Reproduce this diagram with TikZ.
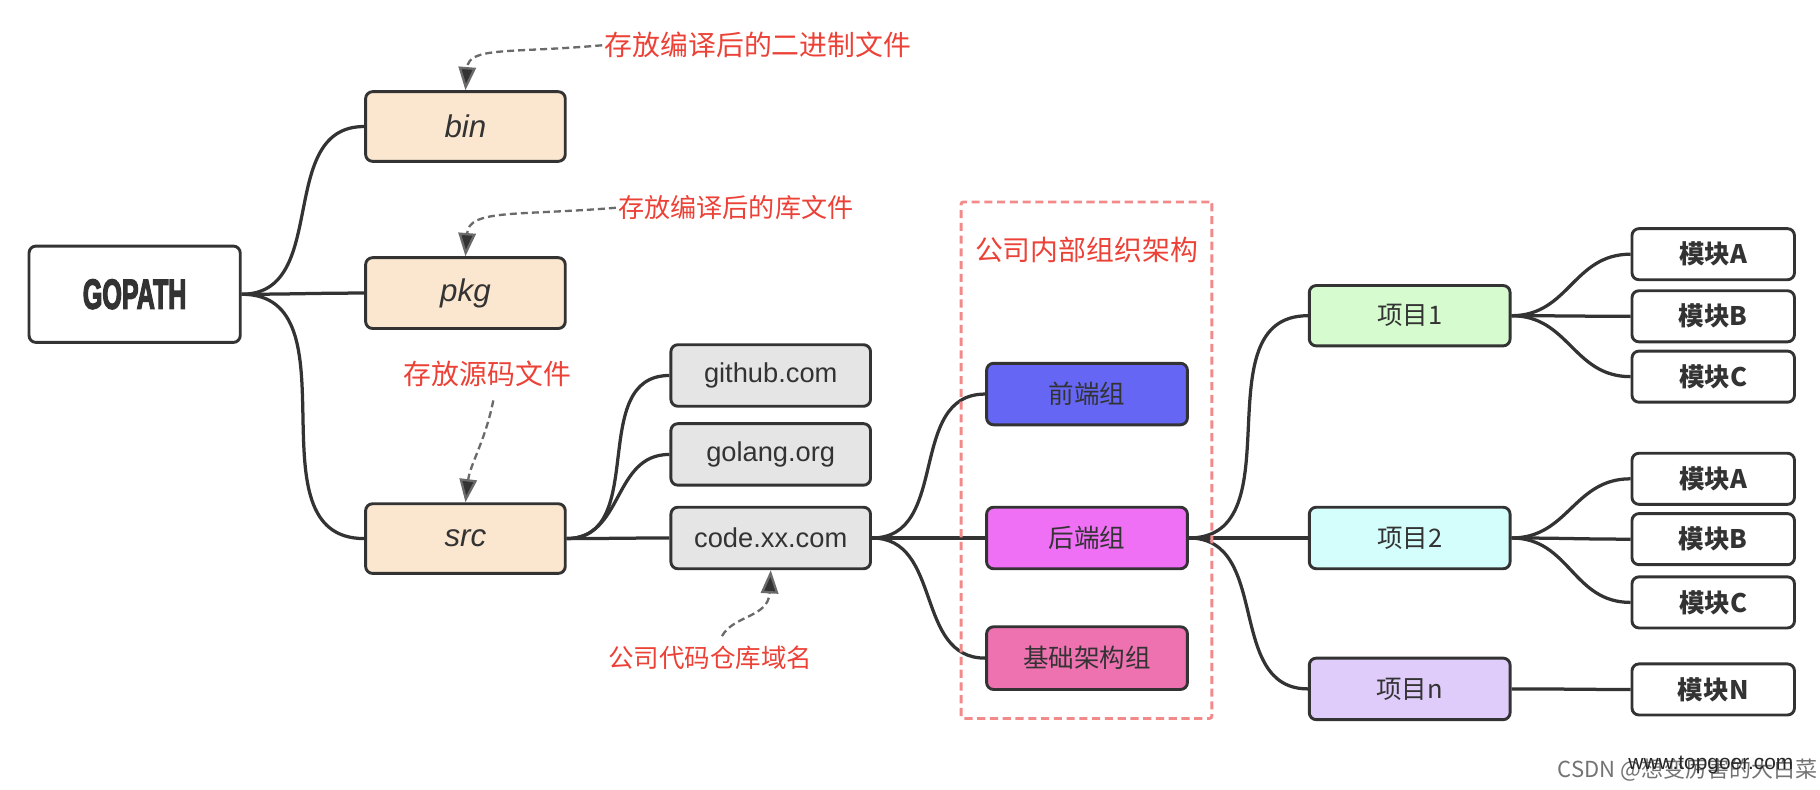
\documentclass[tikz,border=0pt]{standalone}
\usepackage{fontspec}
\setmainfont{Liberation Sans}
\newfontfamily\cjk{Noto Sans CJK SC}
\newfontfamily\heavyfont[FakeBold=4]{Liberation Sans Bold}
\usetikzlibrary{arrows.meta}
\definecolor{ink}{HTML}{333333}
\definecolor{notered}{HTML}{EC4136}
\definecolor{peach}{HTML}{FBE7D0}
\definecolor{lgray}{HTML}{E5E5E5}
\definecolor{qblue}{HTML}{6666F5}
\definecolor{hmag}{HTML}{EF70F5}
\definecolor{jpink}{HTML}{EE72B0}
\definecolor{xgreen}{HTML}{D5FBCF}
\definecolor{xcyan}{HTML}{D4FEFC}
\definecolor{xpurp}{HTML}{E0CCFA}
\definecolor{boxred}{HTML}{F28A8A}
\definecolor{dashgray}{HTML}{6A6A6A}
\begin{document}
\begin{tikzpicture}[x=1pt,y=-1pt,
  box/.style={draw=ink, line width=2.5pt, rounded corners=6pt, inner sep=0pt,
    text=ink, minimum width=172pt},
  dirbox/.style={box, fill=peach, minimum height=60pt,
    font=\fontsize{27}{30}\selectfont\itshape},
  sitebox/.style={box, fill=lgray, minimum height=53pt,
    font=\fontsize{23.5}{26}\selectfont},
  grpbox/.style={box, minimum width=173pt, minimum height=53pt,
    font=\fontsize{22}{26}\selectfont\cjk},
  modbox/.style={box, fill=white, minimum width=140pt, minimum height=44pt,
    font=\fontsize{22}{26}\selectfont\cjk\bfseries},
  conn/.style={draw=ink, line width=2.8pt, out=0, in=180, looseness=1.1},
  notetext/.style={text=notered, inner sep=2pt, font=\fontsize{24}{28}\selectfont\cjk},
  note/.style={draw=dashgray, line width=2pt, dash pattern=on 6pt off 3.5pt,
    -{Triangle[length=20pt,width=15pt,fill=ink]}, shorten >=0pt}
]
\useasboundingbox (0,0) rectangle (1568,680);

% main nodes
\node[box, fill=white, minimum width=182pt, minimum height=83pt] (gopath) at (116,253.5)
  {\scalebox{0.6}[1]{\fontsize{36}{36}\selectfont\heavyfont GOPATH}};
\node[dirbox] (bin) at (401,109) {bin};
\node[dirbox, minimum height=61pt] (pkg) at (401,252.5) {pkg};
\node[dirbox] (src) at (401,464) {src};

\node[sitebox] (github) at (664,323.5) {github.com};
\node[sitebox] (golang) at (664,391.5) {golang.org};
\node[sitebox] (code) at (664,463.5) {code.xx.com};

\node[grpbox, fill=qblue] (qd) at (936.5,339.5) {前端组};
\node[grpbox, fill=hmag] (hd) at (936.5,463.5) {后端组};
\node[grpbox, fill=jpink, minimum height=54pt] (jc) at (936.5,567) {基础架构组};

\node[grpbox, fill=xgreen, minimum height=52pt] (p1) at (1214.5,272) {项目1};
\node[grpbox, fill=xcyan] (p2) at (1214.5,463.5) {项目2};
\node[grpbox, fill=xpurp] (pn) at (1214.5,593.5) {项目n};

\node[modbox] (m1a) at (1476,219) {模块A};
\node[modbox] (m1b) at (1476,272.5) {模块B};
\node[modbox] (m1c) at (1476,324.5) {模块C};
\node[modbox] (m2a) at (1476,412.5) {模块A};
\node[modbox] (m2b) at (1476,464.5) {模块B};
\node[modbox] (m2c) at (1476,519) {模块C};
\node[modbox] (mn) at (1476,594) {模块N};

% connectors
\draw[conn] (gopath.east) to (bin.west);
\draw[conn] (gopath.east) to (pkg.west);
\draw[conn] (gopath.east) to (src.west);
\draw[conn] (src.east) to (github.west);
\draw[conn] (src.east) to (golang.west);
\draw[conn] (src.east) to (code.west);
\draw[conn] (code.east) to (qd.west);
\draw[conn] (code.east) to (hd.west);
\draw[conn] (code.east) to (jc.west);
\draw[conn] (hd.east) to (p1.west);
\draw[conn] (hd.east) to (p2.west);
\draw[conn] (hd.east) to (pn.west);
\draw[conn] (p1.east) to (m1a.west);
\draw[conn] (p1.east) to (m1b.west);
\draw[conn] (p1.east) to (m1c.west);
\draw[conn] (p2.east) to (m2a.west);
\draw[conn] (p2.east) to (m2b.west);
\draw[conn] (p2.east) to (m2c.west);
\draw[conn] (pn.east) to (mn.west);

% dashed group frame
\node[draw=boxred, line width=2.5pt, dash pattern=on 7pt off 4pt, rounded corners=2pt,
  minimum width=216pt, minimum height=445pt, inner sep=0pt] (frame) at (936,396.5) {};
\node[notetext] (orgt) at (936,215) {公司内部组织架构};

% annotations
\node[notetext] (t1) at (653,39) {存放编译后的二进制文件};
\node[notetext, font=\fontsize{22.5}{26}\selectfont\cjk] (t2) at (634,179) {存放编译后的库文件};
\node[notetext] (t3) at (420,322) {存放源码文件};
\node[notetext, font=\fontsize{22}{26}\selectfont\cjk] (t4) at (612,567) {公司代码仓库域名};

\coordinate (s3) at (425,345);
\coordinate (s4) at (622,548);
\draw[note] (t1.west) .. controls (440,46) and (404,40) .. (bin.north);
\draw[note] (t2.west) .. controls (445,186) and (404,180) .. (pkg.north);
\draw[note] (s3) .. controls (418,380) and (405,400) .. (src.north);
\draw[note] (s4) .. controls (632,530) and (662,532) .. (code.south);

% watermark
\node[text=black!55, font=\fontsize{19}{22}\selectfont\cjk, inner sep=0pt] (wm1) at (1454,663) {CSDN @想变厉害的大白菜};
\node[text=black!85, font=\fontsize{18}{22}\selectfont, inner sep=0pt] (wm2) at (1474,659) {www.topgoer.com};
\end{tikzpicture}
\end{document}
